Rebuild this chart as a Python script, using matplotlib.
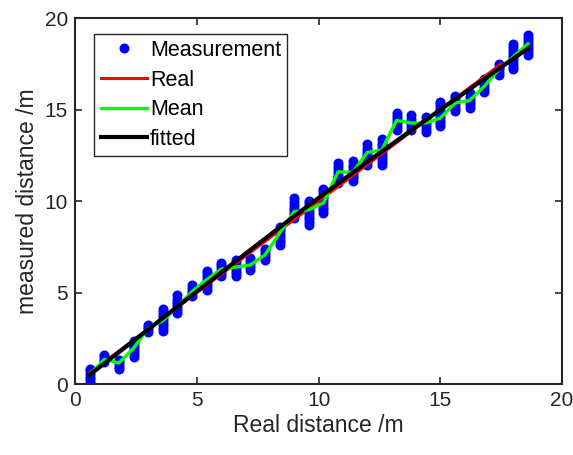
import matplotlib
matplotlib.use("Agg")
import matplotlib.pyplot as plt

plt.rcParams['font.family'] = ['Liberation Sans', 'DejaVu Sans']

# real distances of the measurement stations (m)
positions = [0.6, 1.2, 1.8, 2.4, 3.0, 3.6, 4.2, 4.8, 5.4, 6.0, 6.6, 7.2, 7.8, 8.4, 9.0, 9.6,
             10.2, 10.8, 11.4, 12.0, 12.6, 13.2, 13.8, 14.4, 15.0, 15.6, 16.2, 16.8, 17.4, 18.0, 18.6]

# measured values at each station (read from the blobs)
measurements = [
    [0.1, 0.25, 0.4, 0.55, 0.7, 0.8],
    [1.2, 1.3, 1.45, 1.6],
    [0.8, 0.95, 1.1, 1.2, 1.3],
    [1.5, 1.65, 1.8, 1.95, 2.1, 2.25, 2.35],
    [2.85, 3.0, 3.1, 3.25],
    [2.9, 3.05, 3.2, 3.35, 3.5, 3.65, 3.8, 3.95, 4.1],
    [3.9, 4.05, 4.2, 4.35, 4.5, 4.65, 4.85],
    [4.8, 4.95, 5.1, 5.25, 5.4],
    [5.15, 5.3, 5.45, 5.6, 5.75, 5.9, 6.05, 6.2],
    [5.9, 6.05, 6.2, 6.35, 6.5, 6.6],
    [5.9, 6.05, 6.2, 6.35, 6.5, 6.65, 6.8],
    [6.25, 6.4, 6.55, 6.7, 6.9],
    [6.8, 6.95, 7.1, 7.25, 7.4],
    [7.6, 7.75, 7.9, 8.05, 8.2, 8.35, 8.5, 8.6],
    [9.05, 9.2, 9.35, 9.5, 9.65, 9.8, 9.95, 10.15],
    [8.7, 8.85, 9.0, 9.15, 9.3, 9.45, 9.6, 9.75, 9.9, 10.0],
    [9.35, 9.5, 9.65, 9.8, 9.95, 10.1, 10.25, 10.4, 10.55, 10.65],
    [11.0, 11.15, 11.3, 11.45, 11.6, 11.75, 11.9, 12.1],
    [11.1, 11.25, 11.4, 11.55, 11.7, 11.85, 12.0, 12.2],
    [12.0, 12.15, 12.3, 12.45, 12.6, 12.75, 12.9, 13.1],
    [12.0, 12.15, 12.3, 12.45, 12.6, 12.75, 12.9, 13.05, 13.2, 13.4],
    [13.9, 14.05, 14.2, 14.35, 14.5, 14.65, 14.8],
    [13.9, 14.05, 14.2, 14.35, 14.5, 14.7],
    [13.8, 13.95, 14.1, 14.25, 14.4, 14.6],
    [14.1, 14.25, 14.4, 14.55, 14.7, 14.85, 15.0, 15.15, 15.3, 15.4],
    [14.9, 15.05, 15.2, 15.35, 15.5, 15.65, 15.75],
    [15.1, 15.25, 15.4, 15.55, 15.7, 15.9],
    [15.95, 16.1, 16.25, 16.4, 16.55, 16.7],
    [16.9, 17.05, 17.2, 17.35, 17.5],
    [17.2, 17.35, 17.5, 17.65, 17.8, 17.95, 18.1, 18.25, 18.4, 18.6],
    [18.0, 18.15, 18.3, 18.45, 18.6, 18.75, 18.9, 19.1],
]

mean_values = [0.5, 1.35, 1.15, 1.95, 3.05, 3.45, 4.23, 5.05, 5.7, 6.28, 6.39, 6.51, 7.06, 8.25,
               9.43, 9.52, 9.9, 11.6, 11.57, 12.66, 12.8, 14.41, 14.27, 14.27, 14.54, 15.36,
               15.5, 16.27, 17.19, 17.9, 18.6]

real_x = [0.6, 17.5]
real_y = [0.6, 17.5]

fit_x = [0.6, 3.0, 6.0, 9.0, 12.0, 15.0, 18.6]
fit_y = [0.5, 2.98, 6.1, 9.18, 12.15, 15.0, 18.35]

fig = plt.figure(figsize=(5.73, 4.55), dpi=100)
ax = fig.add_axes([0.131, 0.156, 0.850, 0.804])

first = True
for x, vals in zip(positions, measurements):
    ax.plot([x] * len(vals), vals, 'o', color='blue', markersize=7.2, markeredgewidth=0,
            label='Measurement' if first else None)
    first = False

ax.plot(real_x, real_y, color='red', linewidth=2.2, label='Real')
ax.plot(positions, mean_values, color='#00ff00', linewidth=2.4, label='Mean')
ax.plot(fit_x, fit_y, color='black', linewidth=3, label='fitted')

ax.set_xlim(0, 20)
ax.set_ylim(0, 20)
ax.set_xticks([0, 5, 10, 15, 20])
ax.set_yticks([0, 5, 10, 15, 20])

gray = '#262626'
for s in ax.spines.values():
    s.set_color(gray)
    s.set_linewidth(1.5)
ax.tick_params(direction='in', top=True, right=True, length=5, width=1.2,
               colors=gray, labelsize=15, pad=5)
ax.set_xlabel('Real distance /m', fontsize=16.5, color=gray, labelpad=3)
ax.set_ylabel('measured distance /m', fontsize=16.5, color=gray, labelpad=4)

leg = ax.legend(loc='upper left', bbox_to_anchor=(0.039, 0.958), borderaxespad=0,
                fontsize=15.5, fancybox=False, edgecolor=gray, framealpha=1,
                handlelength=2.17, handletextpad=0.12, borderpad=0.3, labelspacing=0.4)
leg.get_frame().set_linewidth(1.0)

fig.savefig('out.png', dpi=100)
